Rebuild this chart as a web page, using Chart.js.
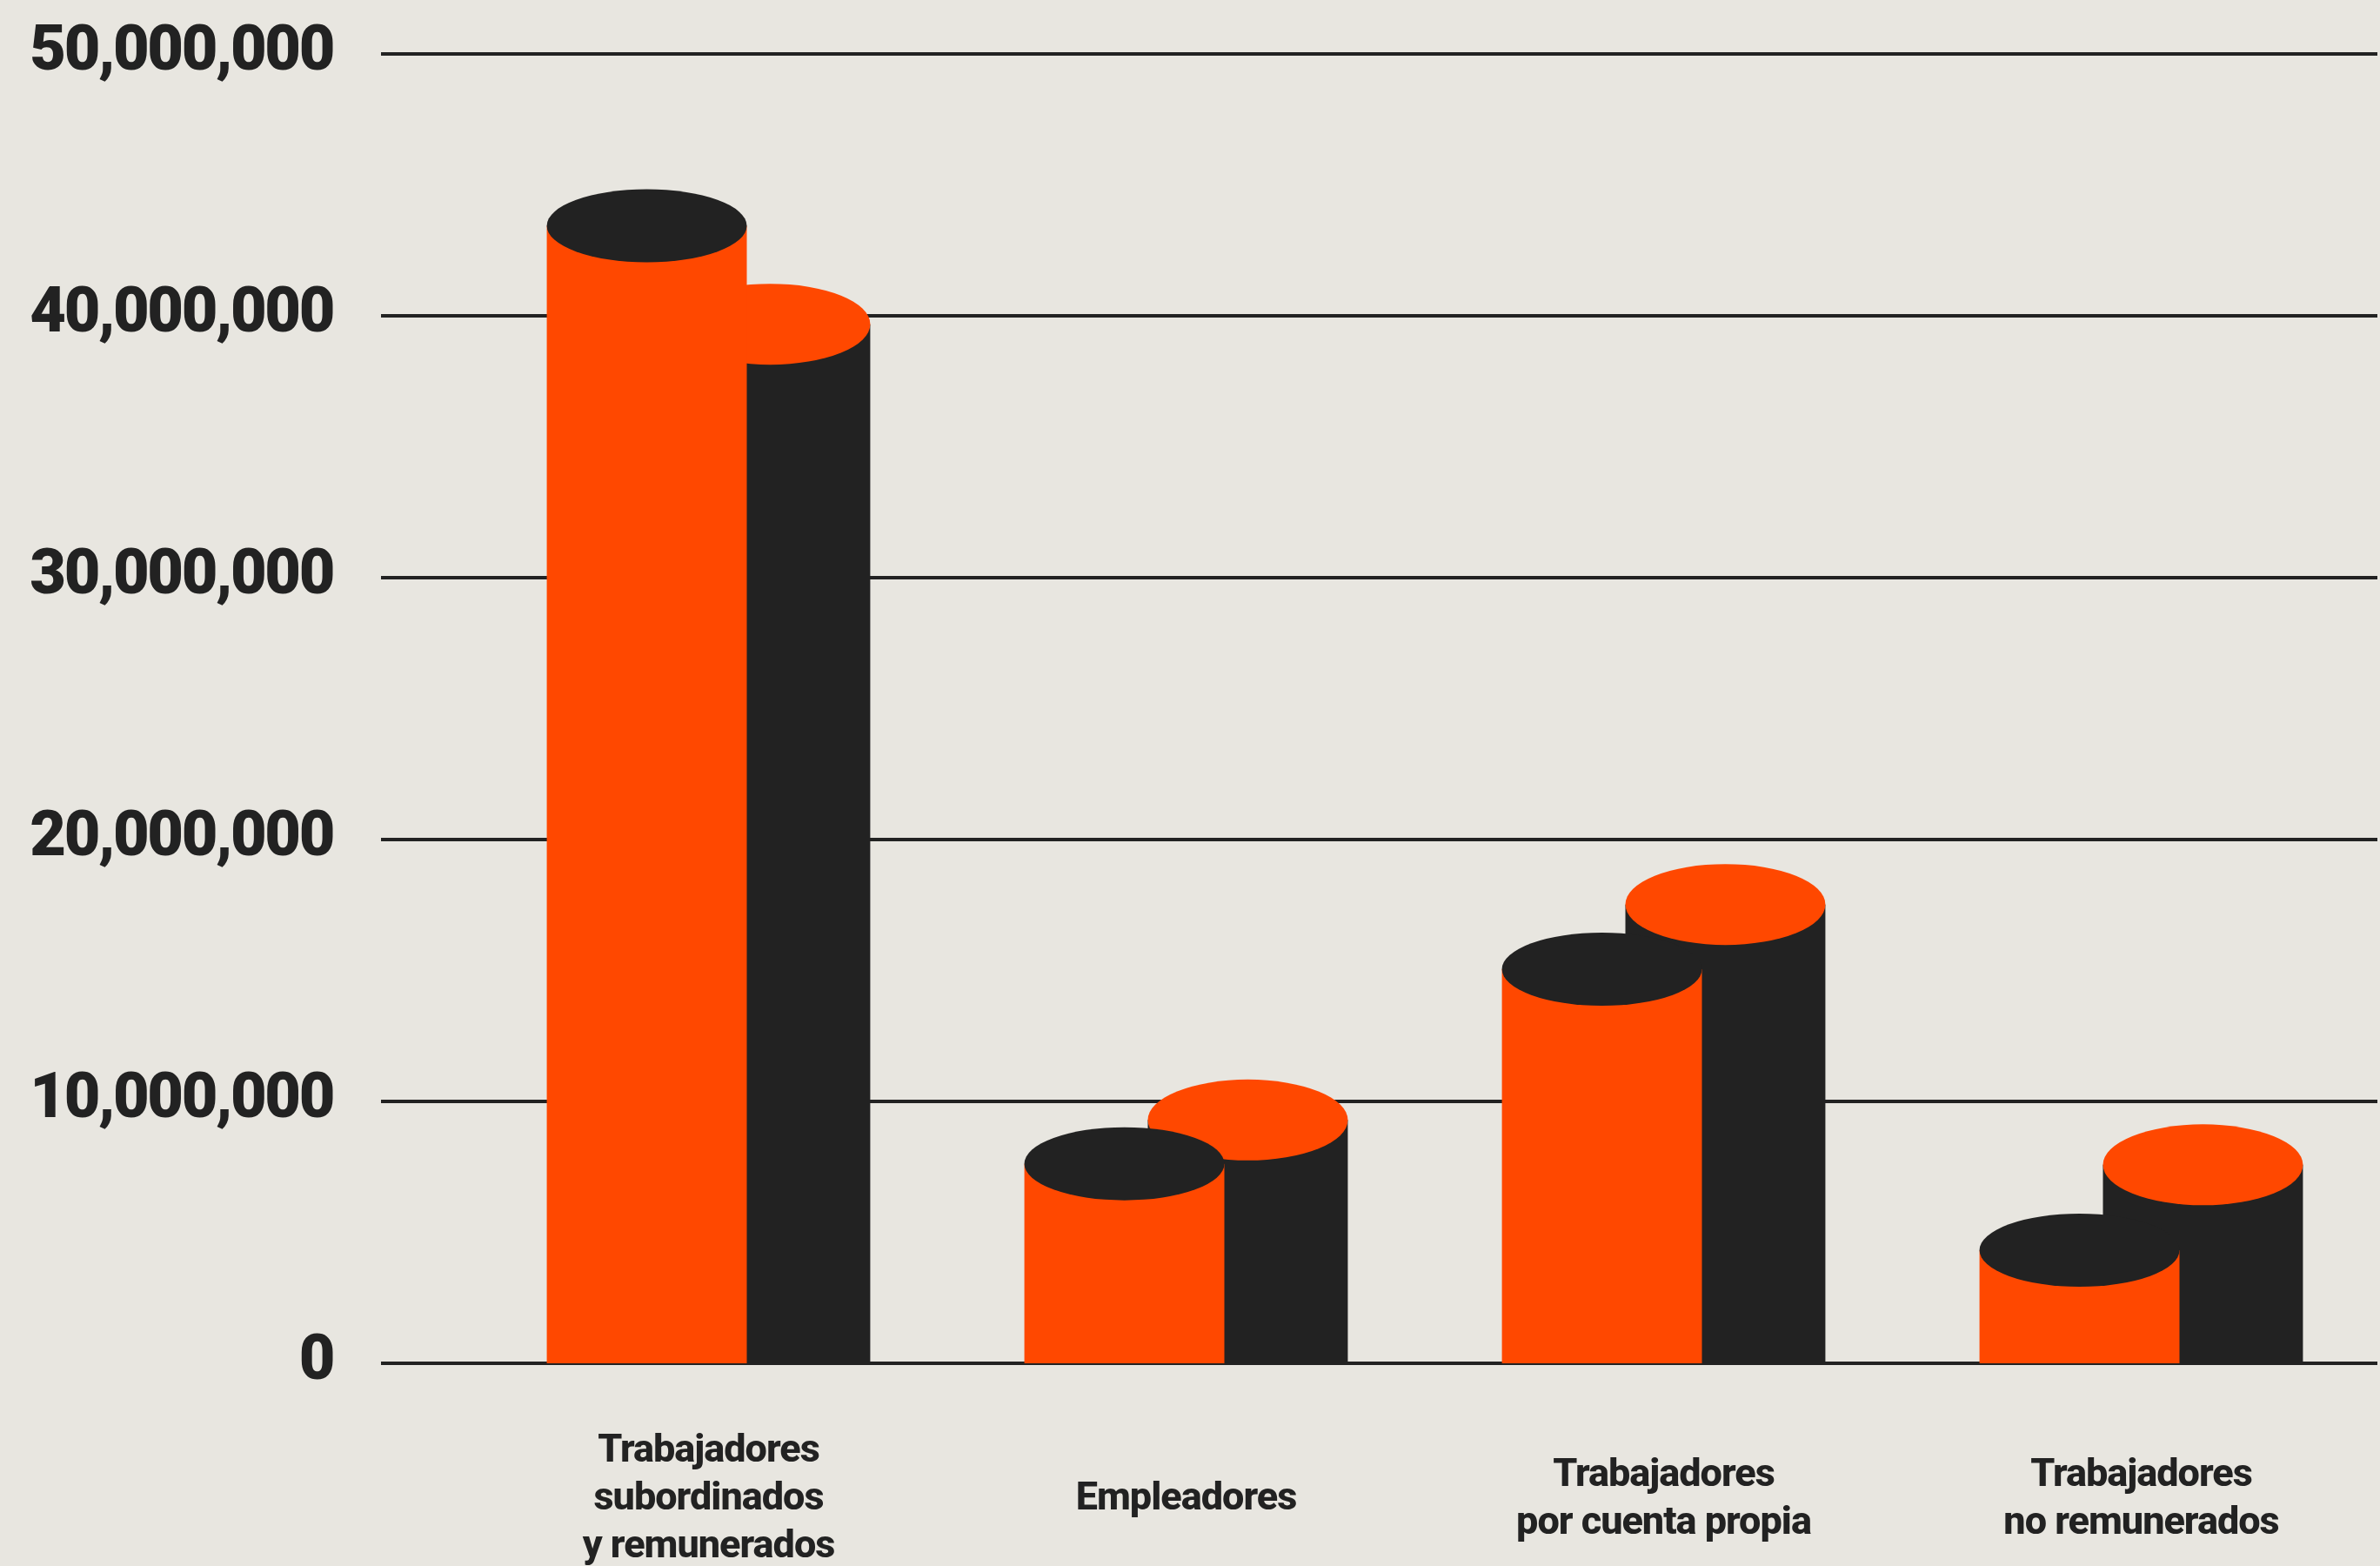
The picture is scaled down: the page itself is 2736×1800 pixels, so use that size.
<!DOCTYPE html>
<html lang="es">
<head>
<meta charset="utf-8">
<title>Trabajadores por posición en la ocupación</title>
<script src="https://cdn.jsdelivr.net/npm/chart.js@4/dist/chart.umd.min.js"></script>
<style>
  html, body { margin: 0; padding: 0; background: #e8e6e0; }
  #wrap { width: 2736px; height: 1800px; position: relative; }
</style>
</head>
<body>
<div id="wrap"><canvas id="grafica"></canvas></div>
<script>
// Categorías (eje X)
const categorias = [
  ['Trabajadores', 'subordinados', 'y remunerados'],
  ['Empleadores'],
  ['Trabajadores', 'por cuenta propia'],
  ['Trabajadores', 'no remunerados']
];

// Valores (personas)
const serieNaranja = [43440000, 7620000, 15050000, 4320000];
const serieNegra = [39680000, 9290000, 17520000, 7580000];

// Marcas del eje Y
const ticksY = [0, 10000000, 20000000, 30000000, 40000000, 50000000];

const NARANJA = '#ff4800';
const NEGRO = '#222222';

// Líneas horizontales de la cuadrícula (más anchas que el área del gráfico)
const cuadricula = {
  id: 'cuadricula',
  beforeDatasetsDraw(chart) {
    const { ctx, scales: { y } } = chart;
    ctx.save();
    ctx.strokeStyle = NEGRO;
    ctx.lineWidth = 4;
    ticksY.forEach(v => {
      const py = Math.round(y.getPixelForValue(v));
      ctx.beginPath();
      ctx.moveTo(438, py);
      ctx.lineTo(2733, py);
      ctx.stroke();
    });
    ctx.restore();
  }
};

// Tapa elíptica de cada cilindro
const tapas = {
  id: 'tapas',
  afterDatasetDraw(chart, args) {
    const ds = chart.data.datasets[args.index];
    const meta = chart.getDatasetMeta(args.index);
    const ctx = chart.ctx;
    ctx.save();
    ctx.fillStyle = ds.capColor;
    meta.data.forEach(bar => {
      ctx.beginPath();
      ctx.ellipse(bar.x, bar.y, bar.width / 2, ds.capHeight, 0, 0, Math.PI * 2);
      ctx.fill();
    });
    ctx.restore();
  }
};

// Interletrado apretado en las etiquetas de cada eje
const interletrado = {
  id: 'interletrado',
  beforeDraw(chart) {
    [['x', '-1px'], ['y', '-2.4px']].forEach(([id, sp]) => {
      const scale = chart.scales[id];
      if (!scale || scale._conInterletrado) return;
      const original = scale.drawLabels.bind(scale);
      scale.drawLabels = function (area) {
        const c = chart.ctx;
        c.save();
        c.letterSpacing = sp;
        original(area);
        c.restore();
      };
      scale._conInterletrado = true;
    });
  }
};

const ctx = document.getElementById('grafica').getContext('2d');
const chart = new Chart(ctx, {
  type: 'bar',
  data: {
    labels: categorias,
    datasets: [
      {
        label: 'Serie 1',
        data: serieNaranja,
        backgroundColor: NARANJA,
        capColor: NEGRO,
        capHeight: 42,
        borderWidth: 0,
        categoryPercentage: 0.517,
        barPercentage: 1.62
      },
      {
        label: 'Serie 2',
        data: serieNegra,
        backgroundColor: NEGRO,
        capColor: NARANJA,
        capHeight: 46.5,
        borderWidth: 0,
        categoryPercentage: 0.517,
        barPercentage: 1.62
      }
    ]
  },
  options: {
    responsive: true,
    maintainAspectRatio: false,
    animation: false,
    layout: { padding: { top: 62, right: 0, bottom: 0, left: 0 } },
    plugins: {
      legend: { display: false },
      tooltip: { enabled: false }
    },
    scales: {
      x: {
        grid: { display: false, drawTicks: false },
        border: { display: false },
        afterFit(scale) { scale.height = 233; },
        ticks: {
          color: NEGRO,
          padding: 102,
          crossAlign: 'center',
          maxRotation: 0,
          autoSkip: false,
          font: { family: 'Roboto', weight: 800, size: 45, lineHeight: 1.22 }
        }
      },
      y: {
        min: 0,
        max: 50000000,
        grid: { display: false, drawTicks: false },
        border: { display: false },
        afterFit(scale) {
          scale.width = 540;
          scale.paddingTop = 0;
          scale.paddingBottom = 0;
        },
        afterBuildTicks(scale) { scale.ticks = ticksY.map(v => ({ value: v })); },
        ticks: {
          color: NEGRO,
          padding: 157,
          font: { family: 'Roboto', weight: 900, size: 72 },
          callback: v => v.toLocaleString('en-US')
        }
      }
    }
  },
  plugins: [cuadricula, tapas, interletrado]
});
</script>
</body>
</html>
